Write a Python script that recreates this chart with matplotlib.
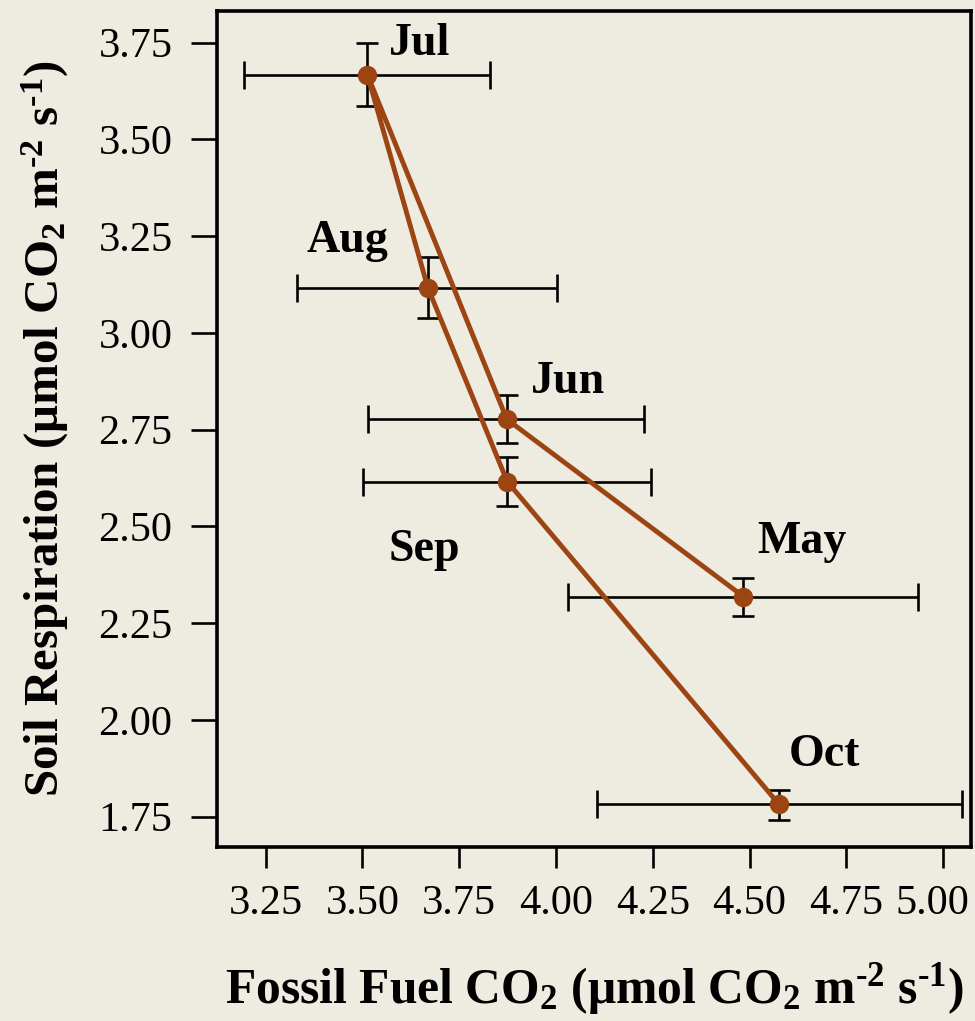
import matplotlib
matplotlib.use("Agg")
import matplotlib.pyplot as plt
import matplotlib.transforms as mtransforms

### data
months = ["May", "Jun", "Jul", "Aug", "Sep", "Oct"]
fossil = [4.484, 3.873, 3.513, 3.669, 3.874, 4.576]
fossil_lo = [4.032, 3.515, 3.195, 3.332, 3.501, 4.105]
fossil_hi = [4.936, 4.227, 3.830, 4.002, 4.245, 5.048]
soil = [2.319, 2.777, 3.667, 3.117, 2.616, 1.782]
soil_lo = [2.269, 2.715, 3.586, 3.038, 2.553, 1.742]
soil_hi = [2.368, 2.840, 3.748, 3.197, 2.679, 1.819]

xticks = [3.25, 3.50, 3.75, 4.00, 4.25, 4.50, 4.75, 5.00]
yticks = [1.75, 2.00, 2.25, 2.50, 2.75, 3.00, 3.25, 3.50, 3.75]

# label offsets in pixels from each point (layout only)
label_offsets = {"May": (59, 44), "Jun": (61, 26), "Jul": (52, 20),
                 "Aug": (-80, 36), "Sep": (-83, -79), "Oct": (45, 38)}

bg = "#eeebe0"
brown = "#9c4512"
hy = "\u2010"  # short hyphen for the exponents

plt.rcParams["font.family"] = ["Liberation Serif", "DejaVu Serif"]
plt.rcParams["mathtext.fontset"] = "custom"
plt.rcParams["mathtext.rm"] = "Liberation Serif:bold"
plt.rcParams["mathtext.bf"] = "Liberation Serif:bold"
plt.rcParams["mathtext.it"] = "Liberation Serif:bold"
plt.rcParams["mathtext.default"] = "rm"

fig = plt.figure(figsize=(9.75, 10.21), dpi=100, facecolor=bg)
ax = fig.add_axes([0.2226, 0.1704, 0.7733, 0.8188], facecolor=bg)

xerr = [[f - lo for f, lo in zip(fossil, fossil_lo)],
        [hi - f for f, hi in zip(fossil, fossil_hi)]]
yerr = [[s - lo for s, lo in zip(soil, soil_lo)],
        [hi - s for s, hi in zip(soil, soil_hi)]]

ax.errorbar(fossil, soil, xerr=xerr, fmt="none", ecolor="black",
            elinewidth=1.9, capsize=10, capthick=1.9, zorder=2)
ax.errorbar(fossil, soil, yerr=yerr, fmt="none", ecolor="black",
            elinewidth=1.9, capsize=8, capthick=1.9, zorder=2)
ax.plot(fossil, soil, color=brown, lw=3.5, zorder=3)
ax.plot(fossil, soil, "o", color=brown, ms=13, zorder=4)

for m, x, y in zip(months, fossil, soil):
    dx, dy = label_offsets[m]
    ax.annotate(m, (x, y), xytext=(dx, dy), textcoords="offset pixels",
                ha="center", va="baseline", fontsize=33, fontweight="bold")

ax.set_xlim(3.1245, 5.0718)
ax.set_ylim(1.6717, 3.8319)
ax.set_xticks(xticks)
ax.set_xticklabels([f"{t:.2f}" for t in xticks])
ax.set_yticks(yticks)
ax.set_yticklabels([f"{t:.2f}" for t in yticks])

for s in ax.spines.values():
    s.set_linewidth(2.6)
ax.tick_params(axis="both", labelsize=30.5, width=1.9, direction="out")
ax.tick_params(axis="y", length=19, pad=13)
ax.tick_params(axis="x", length=15, pad=12)

# the last x label sits a little left of its tick in the reference
last = ax.get_xticklabels()[-1]
last.set_transform(last.get_transform() +
                   mtransforms.ScaledTranslation(-11 / 100, 0, fig.dpi_scale_trans))

ax.set_xlabel(f"Fossil Fuel CO$_2$ ($\\mu$mol CO$_2$ m$^{{{hy}2}}$ s$^{{{hy}1}}$)",
              fontsize=35.7, fontweight="bold", labelpad=27)
ax.set_ylabel(f"Soil Respiration ($\\mu$mol CO$_2$ m$^{{{hy}2}}$ s$^{{{hy}1}}$)",
              fontsize=35.3, fontweight="bold", labelpad=20)

plt.savefig("out.png", dpi=100, facecolor=bg)
